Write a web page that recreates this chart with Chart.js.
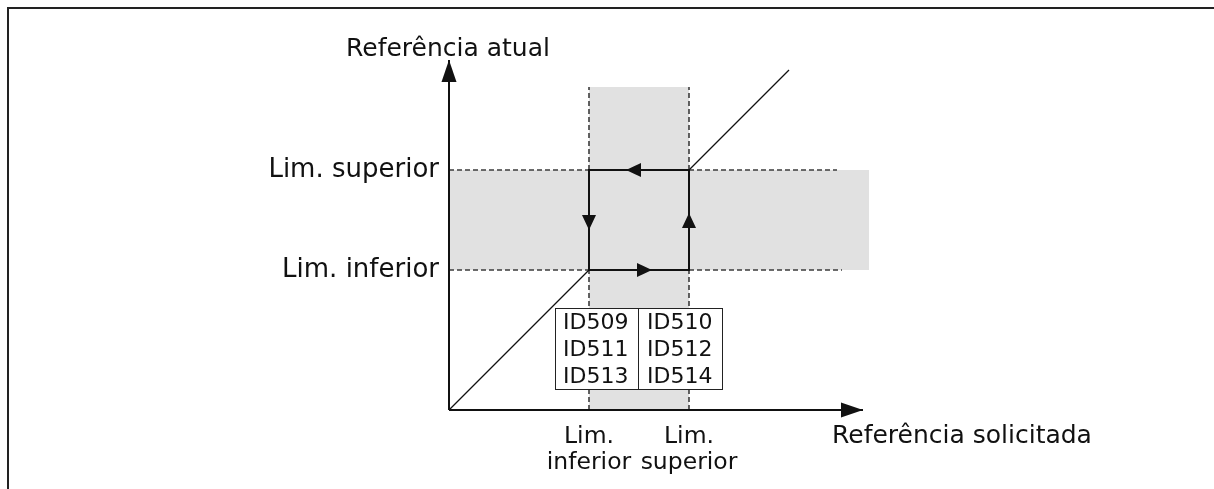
<!DOCTYPE html>
<html>
<head>
<meta charset="utf-8">
<script src="https://cdn.jsdelivr.net/npm/chart.js@4.4.0/dist/chart.umd.min.js"></script>
<style>
  html, body { margin: 0; padding: 0; background: #fff; }
  #wrap { position: relative; width: 1214px; height: 489px; overflow: hidden; }
  #frame { position: absolute; left: 7px; top: 7px; width: 1300px; height: 600px;
           border-top: 2px solid #222; border-left: 2px solid #222; }
  #chart { position: absolute; left: 0; top: 0; }
</style>
</head>
<body>
<div id="wrap">
  <div id="frame"></div>
  <canvas id="chart" width="1214" height="489"></canvas>
</div>
<script>
// --- chart values (data units) ---
const limits = [1.4, 2.4];              // lim. inferior, lim. superior (same on both axes)
const axisTips = [4.14, 3.5];           // end of x axis, end of y axis
const bandTop = 3.23;                   // top of the vertical shaded band
const bandRight = 4.2;                  // right end of the horizontal shaded band
const dashEnds = [3.93, 3.88];          // right end of lower / upper dashed line
const diagLow = [0, 1.4];               // diagonal below the loop (x = y)
const diagHigh = [2.4, 3.4];            // diagonal above the loop
const arrowX = [2.03, 2.4, 1.77, 1.4];  // arrow tips on the loop
const arrowY = [1.4, 1.97, 2.4, 1.8];
const arrowDir = ['right', 'up', 'left', 'down'];

// --- texts ---
const yTitle = 'Referência atual';
const xTitle = 'Referência solicitada';
const yTickLabels = ['Lim. inferior', 'Lim. superior'];
const xTickLabels = [['Lim.', 'inferior'], ['Lim.', 'superior']];
const idTable = [['ID509', 'ID510'], ['ID511', 'ID512'], ['ID513', 'ID514']];

const FONT = '"DejaVu Sans", Verdana, sans-serif';
const GRAY = '#e1e1e1';
const INK = '#111';

const pts = (xs, ys) => xs.map((x, i) => ({ x: x, y: ys[i] }));

function line(data, extra) {
  return Object.assign({
    data: data, borderColor: INK, borderWidth: 1, pointRadius: 0,
    fill: false, clip: false, tension: 0
  }, extra);
}

const dashed = { borderColor: '#3c3c3c', borderWidth: 1.6, borderDash: [5, 3], order: 8 };

const datasets = [
  // shaded bands
  line(pts(limits, [bandTop, bandTop]), { borderWidth: 0, backgroundColor: GRAY, fill: 'origin', order: 10 }),
  line(pts([0, bandRight], [limits[1], limits[1]]), { borderWidth: 0, backgroundColor: GRAY, fill: '+1', order: 10 }),
  line(pts([0, bandRight], [limits[0], limits[0]]), { borderWidth: 0, order: 10 }),
  // dashed guides
  line(pts([0, dashEnds[0]], [limits[0], limits[0]]), dashed),
  line(pts([0, dashEnds[1]], [limits[1], limits[1]]), dashed),
  line(pts([limits[0], limits[0]], [0, bandTop]), dashed),
  line(pts([limits[1], limits[1]], [0, bandTop]), dashed),
  // diagonal
  line(pts(diagLow, diagLow), { borderWidth: 1.3, order: 6 }),
  line(pts(diagHigh, diagHigh), { borderWidth: 1.3, order: 6 }),
  // hysteresis loop
  line(pts([limits[0], limits[1], limits[1], limits[0], limits[0]],
           [limits[0], limits[0], limits[1], limits[1], limits[0]]),
       { borderWidth: 2, borderJoinStyle: 'miter', order: 4 }),
  // axes
  line(pts([0, axisTips[0]], [0, 0]), { borderWidth: 2, order: 2 }),
  line(pts([0, 0], [0, axisTips[1]]), { borderWidth: 2, order: 2 })
];

function arrowHead(ctx, x, y, dir, len, half) {
  const v = { right: [1, 0], left: [-1, 0], up: [0, -1], down: [0, 1] }[dir];
  const bx = x - v[0] * len, by = y - v[1] * len;
  ctx.beginPath();
  ctx.moveTo(x, y);
  ctx.lineTo(bx - v[1] * half, by + v[0] * half);
  ctx.lineTo(bx + v[1] * half, by - v[0] * half);
  ctx.closePath();
  ctx.fill();
}

const decorPlugin = {
  id: 'decor',
  afterDatasetsDraw(chart) {
    const ctx = chart.ctx;
    const xs = chart.scales.x, ys = chart.scales.y;
    const px = v => xs.getPixelForValue(v), py = v => ys.getPixelForValue(v);
    ctx.save();
    ctx.fillStyle = INK;

    // axis arrows
    arrowHead(ctx, px(axisTips[0]), py(0), 'right', 22, 7.5);
    arrowHead(ctx, px(0), py(axisTips[1]), 'up', 22, 7.5);
    // loop arrows
    arrowX.forEach((x, i) => arrowHead(ctx, px(x), py(arrowY[i]), arrowDir[i], 15, 7));

    // parameter table
    const tx0 = px(1.06), tx1 = px(2.73), tsplit = px(1.89);
    const ty0 = py(1.02), ty1 = py(0.21);
    ctx.fillStyle = '#fff';
    ctx.fillRect(tx0, ty0, tx1 - tx0, ty1 - ty0);
    ctx.strokeStyle = '#222';
    ctx.lineWidth = 1;
    ctx.strokeRect(Math.round(tx0) + 0.5, Math.round(ty0) + 0.5, Math.round(tx1 - tx0), Math.round(ty1 - ty0));
    ctx.beginPath();
    ctx.moveTo(Math.round(tsplit) + 0.5, ty0);
    ctx.lineTo(Math.round(tsplit) + 0.5, ty1);
    ctx.stroke();
    ctx.fillStyle = INK;
    ctx.font = '22px ' + FONT;
    ctx.textAlign = 'left';
    ctx.textBaseline = 'alphabetic';
    idTable.forEach((row, i) => {
      const by = ty0 + 21 + i * 27;
      ctx.fillText(row[0], tx0 + 8, by);
      ctx.fillText(row[1], tsplit + 9, by);
    });

    // axis titles
    ctx.font = '25px ' + FONT;
    ctx.textAlign = 'center';
    ctx.fillText(yTitle, px(0) - 1, 56);
    ctx.textAlign = 'left';
    ctx.fillText(xTitle, px(3.83), py(0) + 33);
    ctx.restore();
  }
};

new Chart(document.getElementById('chart'), {
  type: 'line',
  data: { datasets: datasets },
  options: {
    responsive: false,
    animation: false,
    layout: { padding: { left: 0, right: 345, top: 60, bottom: 0 } },
    plugins: { legend: { display: false }, tooltip: { enabled: false } },
    scales: {
      x: {
        type: 'linear', min: 0, max: 4.2,
        grid: { display: false }, border: { display: false },
        afterBuildTicks: s => { s.ticks = limits.map(v => ({ value: v })); },
        afterFit: s => { s.height = 79; },
        ticks: {
          autoSkip: false, maxRotation: 0, minRotation: 0, padding: 6,
          color: INK, font: { family: FONT, size: 23.5, lineHeight: 1.1 },
          callback: (v, i) => xTickLabels[i]
        }
      },
      y: {
        type: 'linear', min: 0, max: 3.5,
        grid: { display: false }, border: { display: false },
        afterBuildTicks: s => { s.ticks = limits.map(v => ({ value: v })); },
        afterFit: s => { s.width = 449; },
        ticks: {
          autoSkip: false, padding: 2,
          color: INK, font: { family: FONT, size: 26 },
          callback: (v, i) => yTickLabels[i]
        }
      }
    }
  },
  plugins: [decorPlugin]
});
</script>
</body>
</html>
